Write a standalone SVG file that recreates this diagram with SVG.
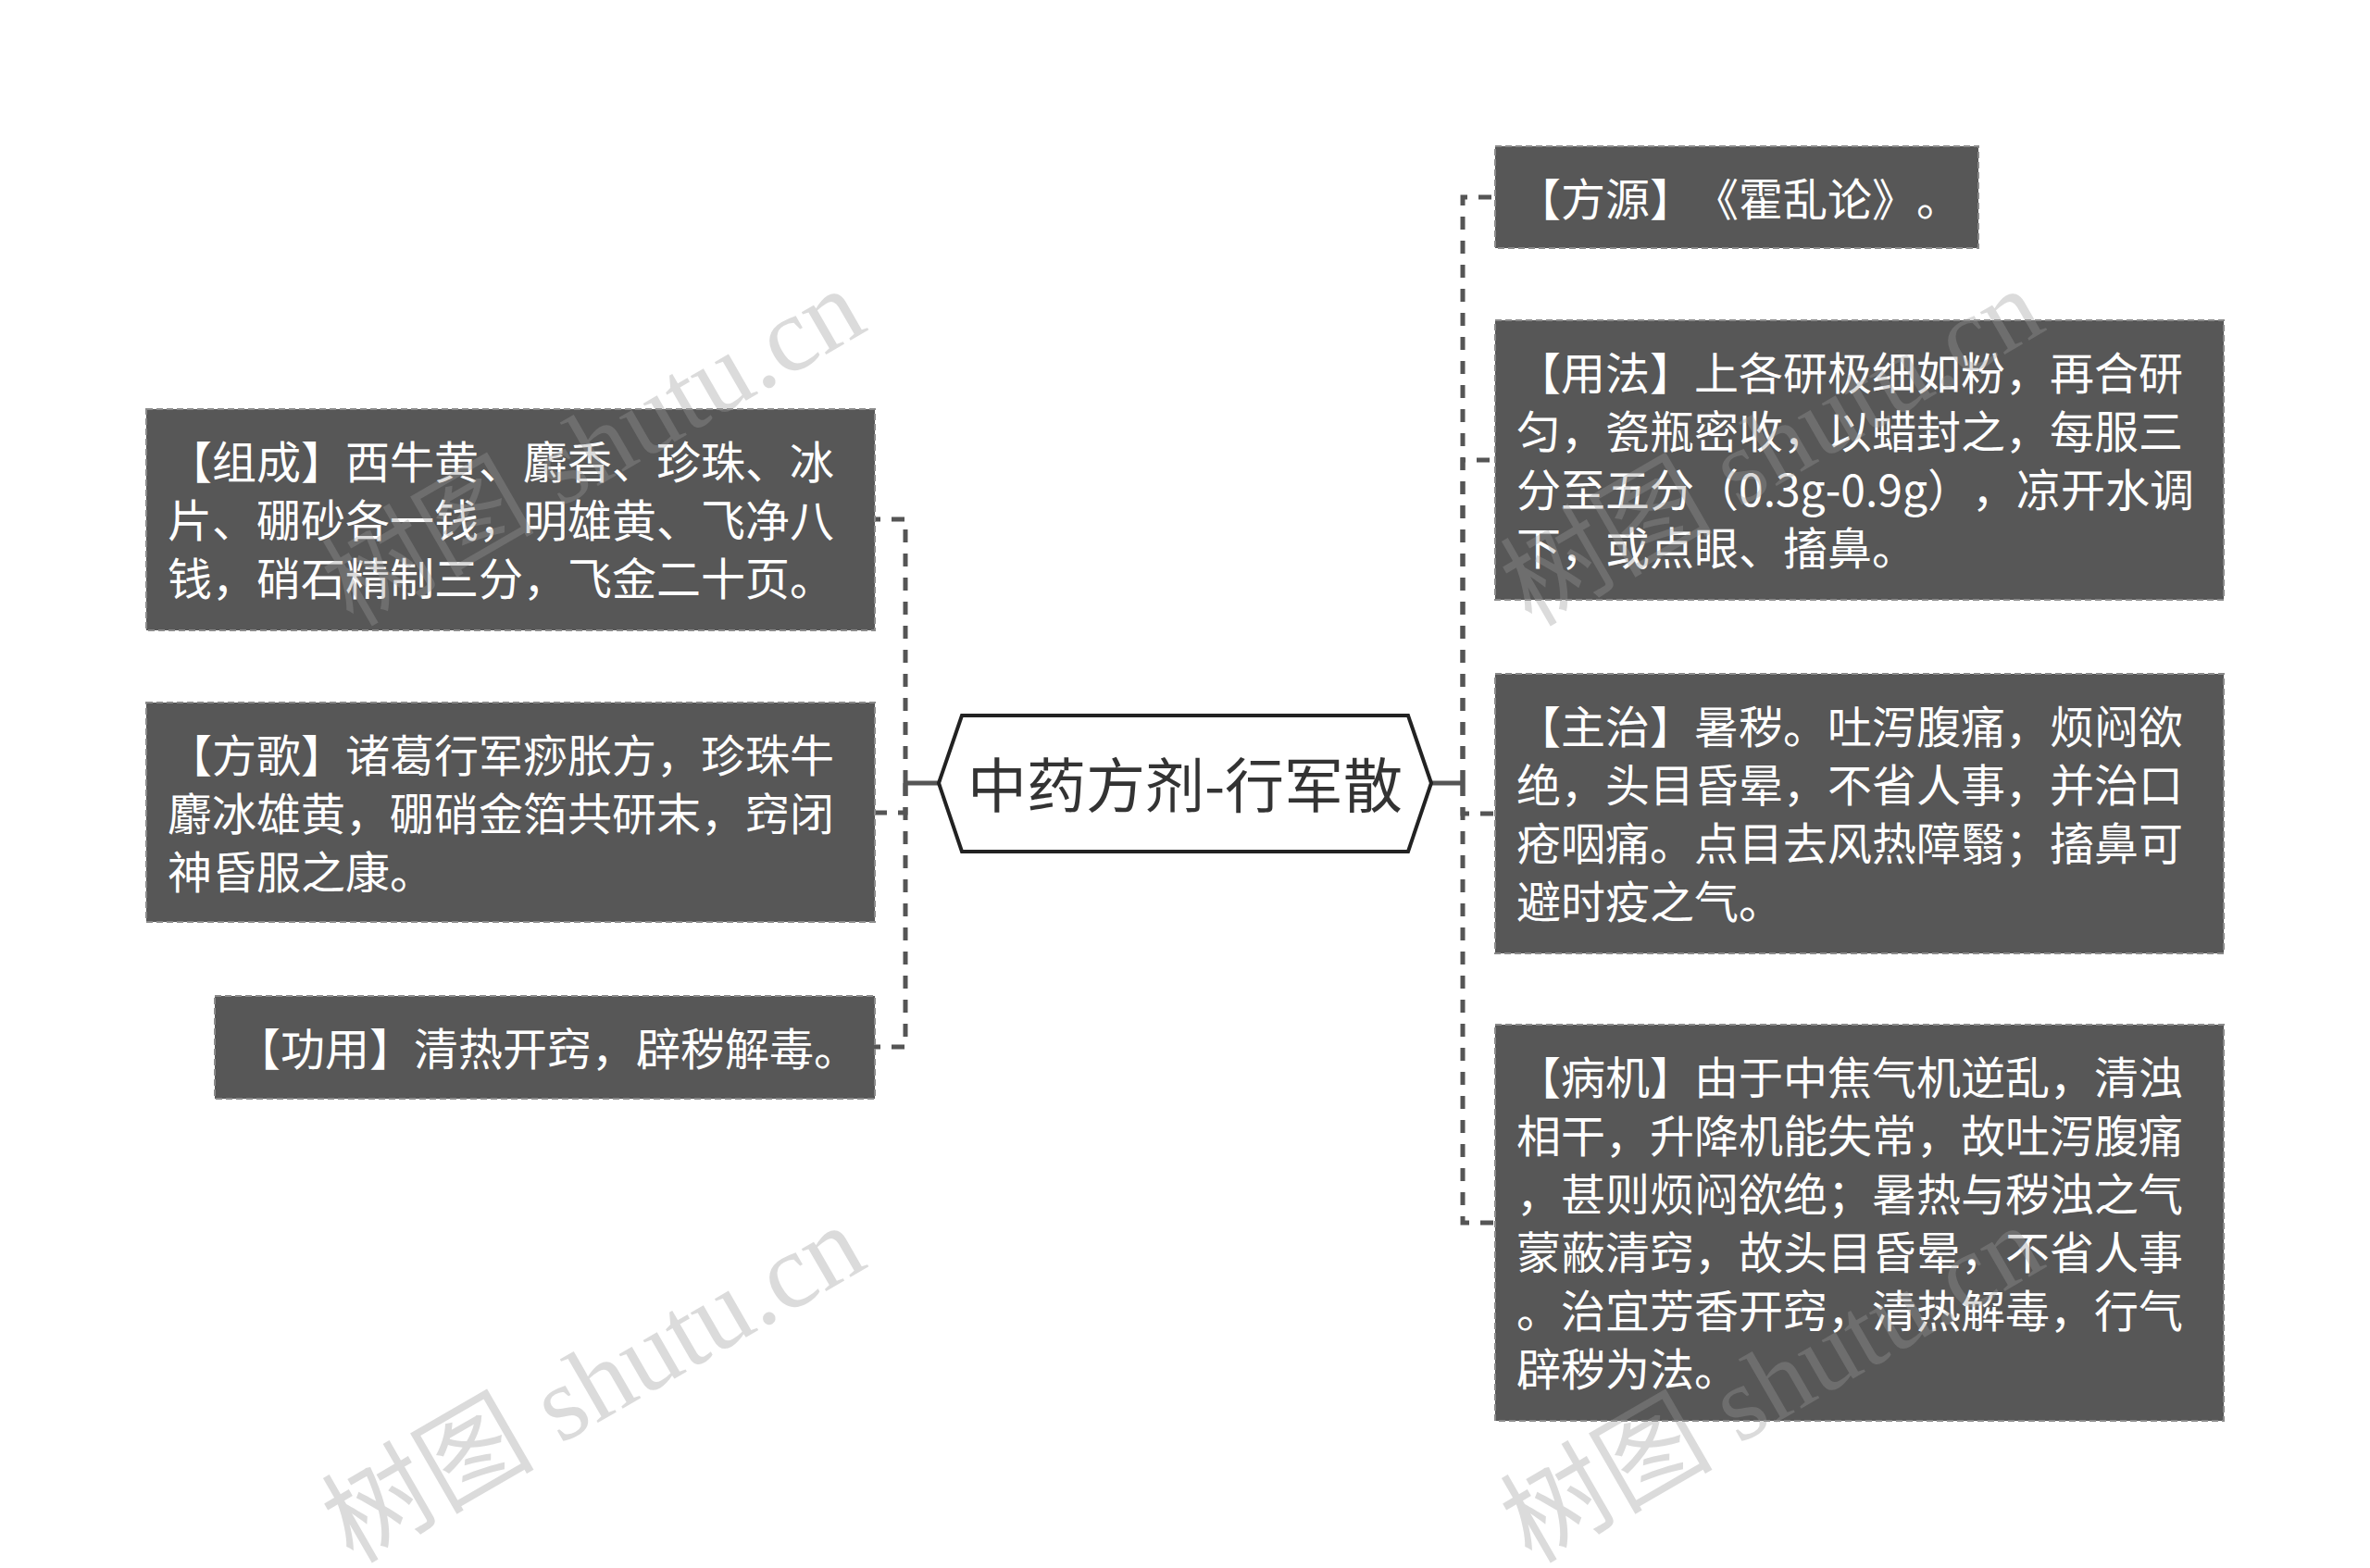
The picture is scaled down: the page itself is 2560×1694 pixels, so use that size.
<svg xmlns="http://www.w3.org/2000/svg" width="2560" height="1694" viewBox="0 0 2560 1694">
<style>
text{text-spacing-trim:space-all}
.box{fill:#575757;stroke:#8a8a8a;stroke-width:2;stroke-dasharray:7 4}
.t{font-family:"Noto Sans CJK SC","Noto Sans",sans-serif;font-size:48px;fill:#ffffff}
.ct{font-family:"Noto Sans CJK SC","Noto Sans",sans-serif;font-size:64px;fill:#333333}
.hex{fill:#ffffff;stroke:#222222;stroke-width:4}
.dash{fill:none;stroke:#555555;stroke-width:5;stroke-dasharray:14 12}
.solid{fill:none;stroke:#555555;stroke-width:5}
.wm{font-family:"Liberation Serif","Noto Sans CJK SC",serif;font-size:115px;fill:#999999;opacity:0.35}
</style>
<rect width="2560" height="1694" fill="#ffffff"/>
<g id="connectors">
<path class="solid" d="M1014 846H978"/>
<path class="dash" d="M978 846V561H945"/>
<path class="dash" d="M978 846V878H945"/>
<path class="dash" d="M978 846V1131H945"/>
<path class="solid" d="M1546 846H1580"/>
<path class="dash" d="M1580 846V213H1615"/>
<path class="dash" d="M1580 846V497H1615"/>
<path class="dash" d="M1580 846V879H1615"/>
<path class="dash" d="M1580 846V1321H1615"/>
</g>
<g id="center">
<polygon class="hex" points="1014,846 1039,773 1521,773 1546,846 1521,920 1039,920"/>
<text class="ct" x="1280" y="872" text-anchor="middle">中药方剂-行军散</text>
</g>
<g id="zucheng">
<rect class="box" x="158" y="442" width="787" height="239"/>
<text class="t" x="181" y="517"><tspan x="181">【组成】西牛黄、麝香、珍珠、冰</tspan><tspan x="181" dy="63">片、硼砂各一钱，明雄黄、飞净八</tspan><tspan x="181" dy="63">钱，硝石精制三分，飞金二十页。</tspan></text>
</g>
<g id="fangge">
<rect class="box" x="158" y="759" width="787" height="237"/>
<text class="t" x="181" y="834"><tspan x="181">【方歌】诸葛行军痧胀方，珍珠牛</tspan><tspan x="181" dy="63">麝冰雄黄，硼硝金箔共研末，窍闭</tspan><tspan x="181" dy="63">神昏服之康。</tspan></text>
</g>
<g id="gongyong">
<rect class="box" x="232" y="1076" width="713" height="111"/>
<text class="t" x="255" y="1151">【功用】清热开窍，辟秽解毒。</text>
</g>
<g id="fangyuan">
<rect class="box" x="1615" y="158" width="522" height="110"/>
<text class="t" x="1638" y="233">【方源】《霍乱论》。</text>
</g>
<g id="yongfa">
<rect class="box" x="1615" y="346" width="787" height="302"/>
<text class="t" x="1638" y="421"><tspan x="1638">【用法】上各研极细如粉，再合研</tspan><tspan x="1638" dy="63">匀，瓷瓶密收，以蜡封之，每服三</tspan><tspan x="1638" dy="63">分至五分（0.3g-0.9g），凉开水调</tspan><tspan x="1638" dy="63">下，或点眼、搐鼻。</tspan></text>
</g>
<g id="zhuzhi">
<rect class="box" x="1615" y="728" width="787" height="302"/>
<text class="t" x="1638" y="803"><tspan x="1638">【主治】暑秽。吐泻腹痛，烦闷欲</tspan><tspan x="1638" dy="63">绝，头目昏晕，不省人事，并治口</tspan><tspan x="1638" dy="63">疮咽痛。点目去风热障翳；搐鼻可</tspan><tspan x="1638" dy="63">避时疫之气。</tspan></text>
</g>
<g id="bingji">
<rect class="box" x="1615" y="1107" width="787" height="428"/>
<text class="t" x="1638" y="1182"><tspan x="1638">【病机】由于中焦气机逆乱，清浊</tspan><tspan x="1638" dy="63">相干，升降机能失常，故吐泻腹痛</tspan><tspan x="1638" dy="63">，甚则烦闷欲绝；暑热与秽浊之气</tspan><tspan x="1638" dy="63">蒙蔽清窍，故头目昏晕，不省人事</tspan><tspan x="1638" dy="63">。治宜芳香开窍，清热解毒，行气</tspan><tspan x="1638" dy="63">辟秽为法。</tspan></text>
</g>
<g id="watermarks">
<text class="wm" transform="translate(381,1690) rotate(-30)">树图 shutu.cn</text>
<text class="wm" transform="translate(381,678) rotate(-30)">树图 shutu.cn</text>
<text class="wm" transform="translate(1654,1690) rotate(-30)">树图 shutu.cn</text>
<text class="wm" transform="translate(1654,678) rotate(-30)">树图 shutu.cn</text>
</g>
</svg>
